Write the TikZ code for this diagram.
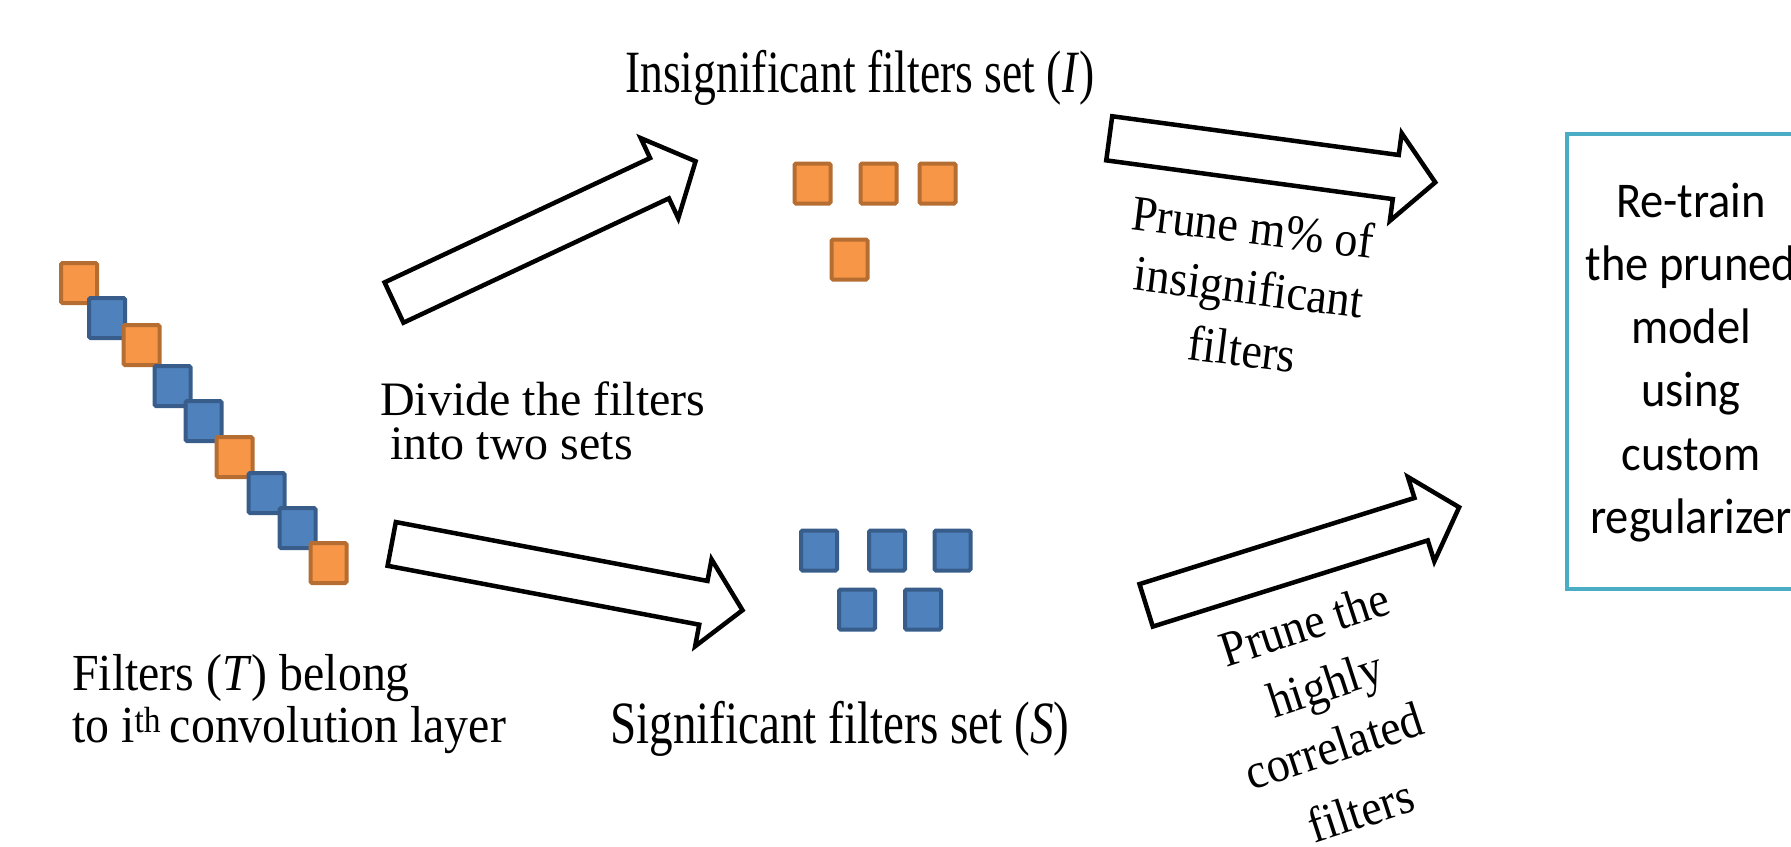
\documentclass[tikz,border=0pt]{standalone}
\usepackage{fontspec}
\usetikzlibrary{shapes.arrows}
\newfontfamily\serifTall[FakeStretch=0.76]{Liberation Serif}
\newfontfamily\serifSig[FakeStretch=0.785]{Liberation Serif}
\newfontfamily\serifMid[FakeStretch=0.92]{Liberation Serif}
\newfontfamily\serifText{Liberation Serif}
\newfontfamily\sansBox[FakeStretch=0.93]{Carlito}
\definecolor{ofill}{HTML}{F79646}
\definecolor{oline}{HTML}{B66D31}
\definecolor{bfill}{HTML}{4F81BD}
\definecolor{bline}{HTML}{385D8A}
\definecolor{boxc}{HTML}{4BACC6}
\tikzset{
  filt/.style={line width=4pt, minimum width=36pt, minimum height=40pt,
    inner sep=0pt, rounded corners=1.5pt},
  ofilt/.style={filt, fill=ofill, draw=oline},
  bfilt/.style={filt, fill=bfill, draw=bline},
  blockarrow/.style={single arrow, draw=black, fill=white, line width=4.5pt,
    inner xsep=0pt, inner ysep=20pt, single arrow head extend=22pt,
    single arrow tip angle=96, anchor=tail, minimum height=#1},
  lbl/.style={inner sep=0pt},
  tallfont/.style={lbl, font=\serifTall\fontsize{60}{66}\selectfont},
  sigfont/.style={lbl, font=\serifSig\fontsize{60}{66}\selectfont},
  midfont/.style={lbl, font=\serifMid\fontsize{52}{58}\selectfont},
  txtfont/.style={lbl, font=\serifText\fontsize{48}{54}\selectfont},
  prunefont/.style={lbl, font=\serifMid\fontsize{50}{56}\selectfont},
  boxfont/.style={lbl, font=\sansBox\fontsize{50}{60}\selectfont},
}
\begin{document}
\begin{tikzpicture}[x=1pt,y=-1pt]
\useasboundingbox (0,0) rectangle (1791,846);
\clip (0,0) rectangle (1791,846);

% all filters of the layer, on a diagonal
\node[ofilt] (t1) at (79,283) {};
\node[bfilt] (t2) at (107,318) {};
\node[ofilt] (t3) at (141.5,345) {};
\node[bfilt] (t4) at (172.5,386) {};
\node[bfilt] (t5) at (203.5,421) {};
\node[ofilt] (t6) at (234.5,457) {};
\node[bfilt] (t7) at (266.5,493) {};
\node[bfilt] (t8) at (297.5,528) {};
\node[ofilt] (t9) at (328.5,563) {};

\node[midfont, anchor=base west] (tlab1) at (72,690) {Filters (\textit{T}) belong};
\node[midfont, anchor=base west] (tlab2) at (72,742) {to i\textsuperscript{th}\,convolution layer};

% insignificant set
\node[ofilt] (i1) at (812.5,183.5) {};
\node[ofilt] (i2) at (878.5,183.5) {};
\node[ofilt] (i3) at (937.5,183.5) {};
\node[ofilt] (i4) at (849.5,259.5) {};
\node[tallfont, anchor=base west] (ilab) at (625,92) {Insignificant filters set (\textit{I})};

% significant set
\node[bfilt] (s1) at (819,550.5) {};
\node[bfilt] (s2) at (887,550.5) {};
\node[bfilt] (s3) at (952.5,550.5) {};
\node[bfilt] (s4) at (857,609.5) {};
\node[bfilt] (s5) at (923,609.5) {};
\node[sigfont, anchor=base west] (slab) at (610,743) {Significant filters set (\textit{S})};

% splitting step
\node[blockarrow=333, rotate=25.1] (a1) at (392,303.5) {};
\node[blockarrow=357, rotate=-10.7] (a2) at (389.5,543.5) {};
\node[txtfont, anchor=base west] (dlab1) at (380,415) {Divide the filters};
\node[txtfont, anchor=base west] (dlab2) at (390,459) {into two sets};

% pruning steps
\node[blockarrow=329, rotate=-7.7] (a3) at (1107,138) {};
\node[blockarrow=328, rotate=17.4] (a4) at (1144,606) {};

\node[prunefont, anchor=base, rotate=-7] (p1) at (1251,244) {Prune m\% of};
\node[prunefont, anchor=base, rotate=-7] (p2) at (1247,304) {insignificant};
\node[prunefont, anchor=base, rotate=-7] (p3) at (1240,366) {filters};

\node[prunefont, anchor=base, rotate=18] (q1) at (1310,640) {Prune the};
\node[prunefont, anchor=base, rotate=18] (q2) at (1330,700) {highly};
\node[prunefont, anchor=base, rotate=18] (q3) at (1339,762) {correlated};
\node[prunefont, anchor=base, rotate=18] (q4) at (1366,827) {filters};

% re-training step
\node[draw=boxc, line width=4pt, minimum width=300pt, minimum height=455pt,
  anchor=north west, inner sep=0pt] (box) at (1565,132) {};
\node[boxfont, anchor=base] (r1) at (1691,217) {Re-train};
\node[boxfont, anchor=base] (r2) at (1691,280) {the pruned};
\node[boxfont, anchor=base] (r3) at (1691,343) {model};
\node[boxfont, anchor=base] (r4) at (1691,406) {using};
\node[boxfont, anchor=base] (r5) at (1691,470) {custom};
\node[boxfont, anchor=base] (r6) at (1691,533) {regularizer};
\end{tikzpicture}
\end{document}
